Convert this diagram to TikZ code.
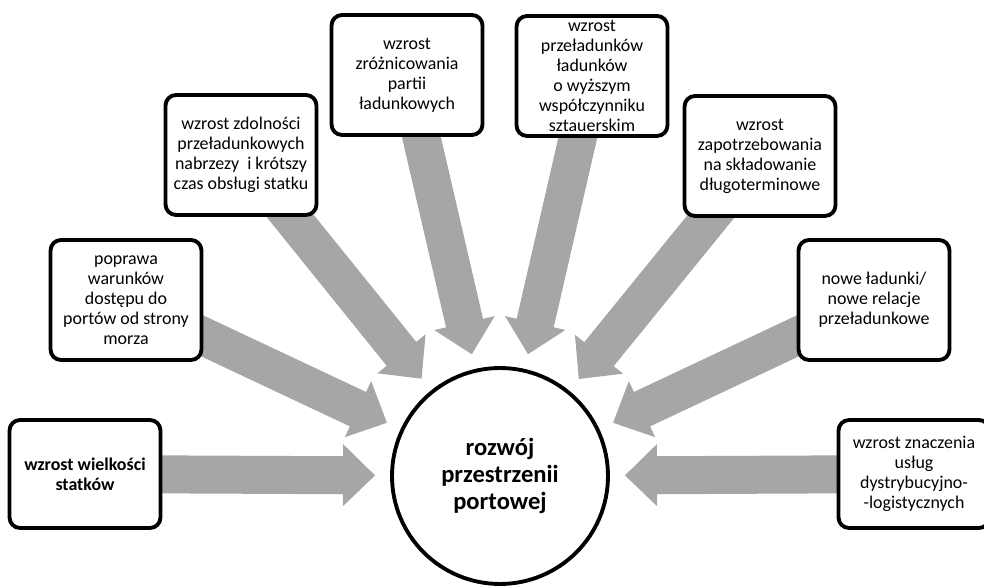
\documentclass[tikz,border=0pt]{standalone}
\usepackage{fontspec}
\setmainfont{Carlito}
\usepackage{tikz}
\usetikzlibrary{calc,backgrounds}
\definecolor{arrowgray}{RGB}{166,166,166}

\begin{document}
\begin{tikzpicture}[x=0.02cm,y=0.02cm,
  box/.style={draw, line width=2.2pt, rounded corners=6pt, fill=white,
    align=center, minimum width=3.02cm, minimum height=2.4cm, inner sep=0pt,
    font=\fontsize{10.2}{11.4}\selectfont},
  hub/.style={draw, circle, line width=2.2pt, fill=white, minimum size=4.32cm,
    align=center, inner sep=0pt, font=\fontsize{14}{15.6}\selectfont\bfseries},
  % block arrow from a box centre towards the hub, tip 2.5cm from its centre
  flow/.style={fill=arrowgray, to path={
    let \p1=($(\tikztotarget)!2.5cm!(\tikztostart)$),
        \p2=($(\p1)!0.64cm!(\tikztostart)$) in
    ($(\tikztostart)!0.38cm!90:(\p1)$) -- ($(\p2)!0.38cm!-90:(\tikztostart)$)
    -- ($(\p2)!0.62cm!-90:(\tikztostart)$) -- (\p1)
    -- ($(\p2)!0.62cm!90:(\tikztostart)$) -- ($(\p2)!0.38cm!90:(\tikztostart)$)
    -- ($(\tikztostart)!0.38cm!-90:(\p1)$) -- cycle}}]
\useasboundingbox (0,0) rectangle (984,588);

% centre
\node[hub] (c) at (500,112) {rozwój\\przestrzenii\\portowej};

% left side
\node[box, minimum height=2.16cm, font=\fontsize{10.2}{11.4}\selectfont\bfseries] (b1) at (85,114)
  {wzrost wielkości\\statków};
\node[box] (b2) at (126,288) {poprawa\\warunków\\dostępu do\\portów od strony\\morza};
\node[box] (b3) at (241,433) {wzrost zdolności\\przeładunkowych\\nabrzezy\ \ i krótszy\\czas obsługi statku};
\node[box] (b4) at (407,513) {wzrost\\zróżnicowania\\partii\\ładunkowych};

% right side
\node[box] (b5) at (592,512) {wzrost\\przeładunków\\ładunków\\o wyższym\\współczynniku\\sztauerskim};
\node[box] (b6) at (760,432) {wzrost\\zapotrzebowania\\na składowanie\\długoterminowe};
\node[box] (b7) at (874,288) {nowe ładunki/\\nowe relacje\\przeładunkowe};
\node[box, minimum height=2.16cm] (b8) at (914,114)
  {wzrost znaczenia\\usług\\dystrybucyjno-\\-logistycznych};

% arrows behind the boxes
\begin{scope}[on background layer]
\foreach \b in {b1,b2,b3,b4,b5,b6,b7,b8}
  \path[flow] (\b.center) to (c);
\end{scope}
\end{tikzpicture}
\end{document}
